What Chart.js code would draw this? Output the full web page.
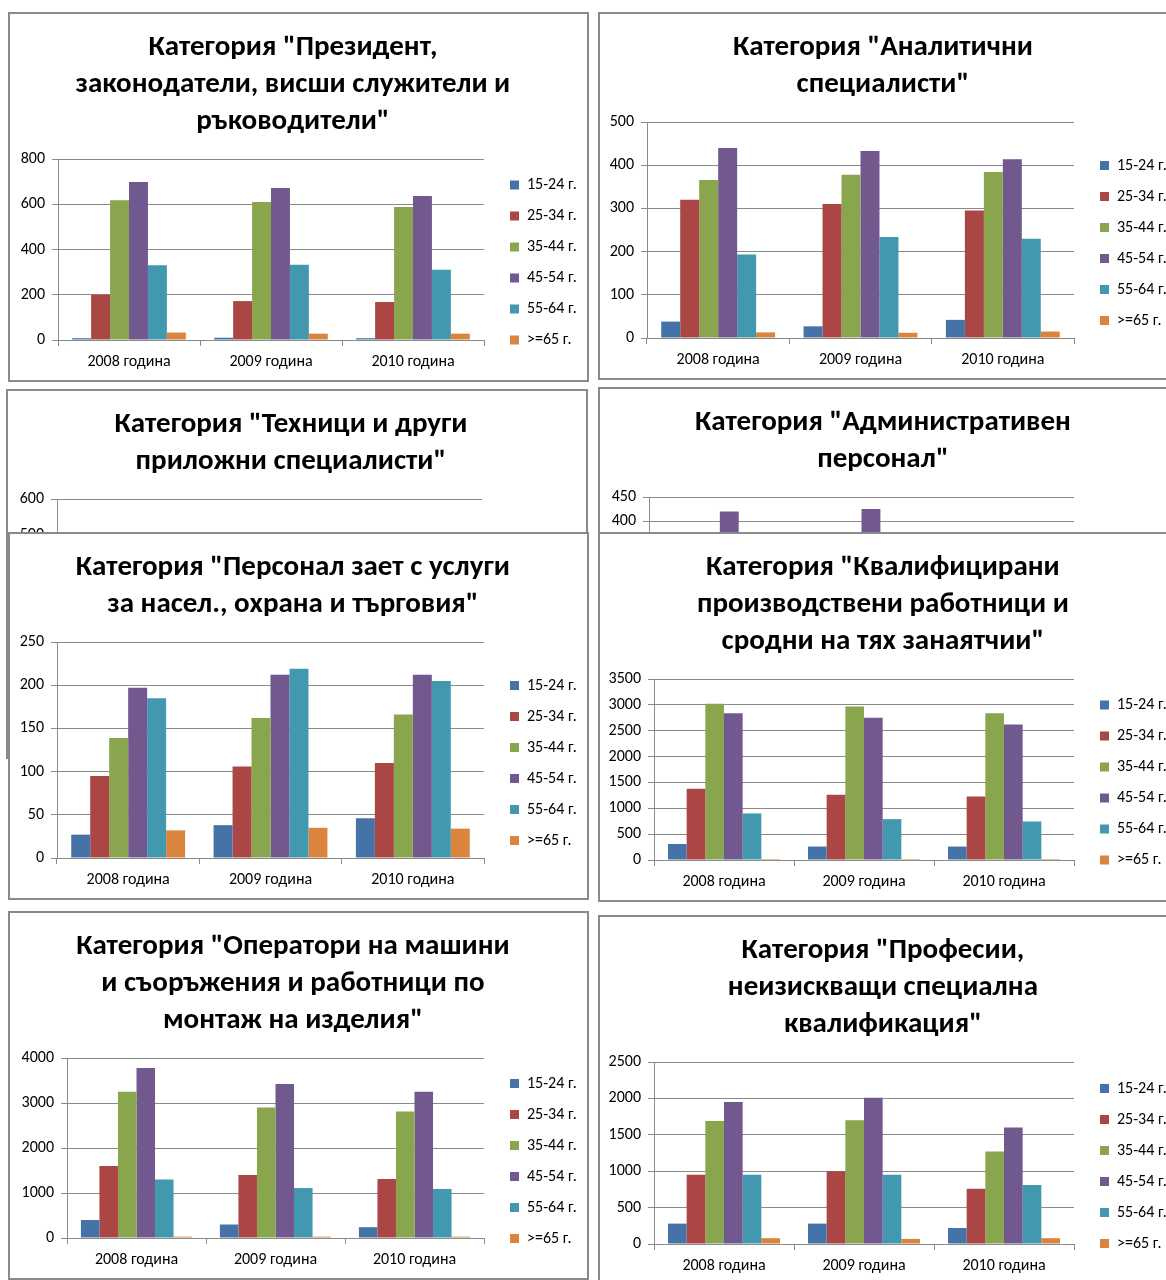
<!DOCTYPE html>
<html>
<head>
<meta charset="utf-8">
<script src="https://cdn.jsdelivr.net/npm/chart.js@4.4.1/dist/chart.umd.min.js"></script>
<style>
  body { margin: 0; background: #fff; width: 1166px; height: 1280px; overflow: hidden; position: relative; }
  .box { position: absolute; border: 2px solid #8a8a8a; background: #fff; box-sizing: border-box; }
  .box canvas { display: block; }
</style>
</head>
<body>
<div class="box" style="left:8px;top:12px;width:581px;height:370px"><canvas id="c1"></canvas></div>
<div class="box" style="left:598px;top:12px;width:580px;height:368px"><canvas id="c2"></canvas></div>
<div class="box" style="left:6px;top:389px;width:582px;height:370px"><canvas id="c3"></canvas></div>
<div class="box" style="left:598px;top:387px;width:580px;height:370px"><canvas id="c4"></canvas></div>
<div class="box" style="left:8px;top:532px;width:581px;height:368px"><canvas id="c5"></canvas></div>
<div class="box" style="left:598px;top:532px;width:580px;height:370px"><canvas id="c6"></canvas></div>
<div class="box" style="left:8px;top:911px;width:581px;height:369px"><canvas id="c7"></canvas></div>
<div class="box" style="left:598px;top:915px;width:580px;height:371px"><canvas id="c8"></canvas></div>
<script>
const years = ['2008 година', '2009 година', '2010 година']
const ageGroups = ['15-24 г.', '25-34 г.', '35-44 г.', '45-54 г.', '55-64 г.', '>=65 г.']
const colors = ['#4572A7', '#AA4643', '#89A54E', '#71588F', '#4198AF', '#DB843D']

// one row per age group, values for 2008, 2009, 2010
const presidentValues = [[8, 10, 8], [200, 172, 168], [618, 610, 588], [698, 672, 636], [330, 333, 311], [33, 28, 28]]
const analystValues = [[38, 27, 42], [320, 310, 295], [366, 378, 384], [440, 433, 414], [193, 234, 230], [13, 12, 15]]
// panels 3 and 4 are covered by the ones below; only what shows is known
const technicianValues = [[null, null, null], [null, null, null], [null, null, null], [null, null, null], [null, null, null], [null, null, null]]
const adminValues = [[null, null, null], [null, null, null], [null, null, null], [420, 425, null], [null, null, null], [null, null, null]]
const serviceValues = [[27, 38, 46], [95, 106, 110], [139, 162, 166], [197, 212, 212], [185, 219, 205], [32, 35, 34]]
const craftValues = [[310, 260, 260], [1380, 1260, 1230], [3020, 2970, 2840], [2840, 2750, 2620], [900, 790, 745], [20, 20, 20]]
const operatorValues = [[400, 300, 240], [1600, 1400, 1310], [3250, 2900, 2810], [3780, 3420, 3250], [1300, 1110, 1090], [30, 30, 30]]
const elementaryValues = [[280, 280, 220], [950, 1000, 760], [1690, 1700, 1270], [1950, 2010, 1600], [950, 950, 810], [80, 70, 80]]

const yMaxes = [800, 500, 600, 450, 250, 3500, 4000, 2500]
const ySteps = [200, 100, 100, 50, 50, 500, 1000, 500]

const titles = [
    ['Категория "Президент,', 'законодатели, висши служители и', 'ръководители"'],
    ['Категория "Аналитични', 'специалисти"'],
    ['Категория "Техници и други', 'приложни специалисти"'],
    ['Категория "Административен', 'персонал"'],
    ['Категория "Персонал зает с услуги', 'за насел., охрана и търговия"'],
    ['Категория "Квалифицирани', 'производствени работници и', 'сродни на тях занаятчии"'],
    ['Категория "Оператори на машини', 'и съоръжения и работници по', 'монтаж на изделия"'],
    ['Категория "Професии,', 'неизискващи специална', 'квалификация"']
]
const panelValues = [presidentValues, analystValues, technicianValues, adminValues, serviceValues, craftValues, operatorValues, elementaryValues]

// x of the value axis inside each canvas
const axisX = [48, 47, 49, 49, 47, 54, 57, 54]
const plotRight = 474

const textFont = "Carlito, 'Liberation Sans Narrow', 'Noto Sans', sans-serif"
const gridColor = '#8a8a8a'
const legendSize = 16
const legendPad = 15

const measure = document.createElement('canvas').getContext('2d')
measure.font = legendSize + 'px ' + textFont
const legendTextW = Math.max(...ageGroups.map(t => measure.measureText(t).width))
// width Chart.js gives a right legend: 10 + padding + box + font/2 + text
const legendW = 10 + legendPad + 9 + legendSize / 2 + legendTextW

// Excel sits the legend further from the plot and centres it lower than Chart.js
const legendPlace = {
    id: 'legendPlace',
    afterLayout(chart) {
        const l = chart.legend
        const area = chart.chartArea
        l.left = area.right + 11
        l.right = l.left + l.width
        l.top = area.top - 7
        l.bottom = chart.height - 7
    }
}

function makeChart(i) {
    const canvas = document.getElementById('c' + (i + 1))
    const box = canvas.parentElement
    canvas.width = box.clientWidth
    canvas.height = box.clientHeight

    return new Chart(canvas, {
        type: 'bar',
        data: {
            labels: years,
            datasets: ageGroups.map((g, j) => ({
                label: g,
                data: panelValues[i][j],
                backgroundColor: colors[j],
                barPercentage: 1,
                categoryPercentage: 0.8
            }))
        },
        options: {
            responsive: false,
            animation: false,
            layout: {
                padding: { left: 0, right: canvas.width - plotRight - legendW, bottom: 2 }
            },
            plugins: {
                title: {
                    display: true,
                    text: titles[i],
                    color: '#000',
                    font: { family: textFont, size: 29, weight: 'bold', lineHeight: 37 / 29 },
                    padding: { top: 15, bottom: 19 }
                },
                legend: {
                    position: 'right',
                    labels: {
                        boxWidth: 9,
                        boxHeight: 9,
                        padding: legendPad,
                        color: '#000',
                        font: { family: textFont, size: legendSize }
                    }
                },
                tooltip: { enabled: false }
            },
            scales: {
                x: {
                    grid: { offset: true, drawOnChartArea: false, tickLength: 6, color: gridColor },
                    border: { color: gridColor },
                    ticks: { color: '#000', padding: 6.4, font: { family: textFont, size: 16 } }
                },
                y: {
                    min: 0,
                    max: yMaxes[i],
                    afterFit: scale => { scale.width = axisX[i] },
                    grid: { tickLength: 6, color: gridColor },
                    border: { color: gridColor },
                    ticks: {
                        stepSize: ySteps[i],
                        color: '#000',
                        padding: 7,
                        font: { family: textFont, size: 16 },
                        callback: v => String(v)
                    }
                }
            }
        },
        plugins: [legendPlace]
    })
}

for (let i = 0; i < 8; i++) makeChart(i)
</script>
</body>
</html>
